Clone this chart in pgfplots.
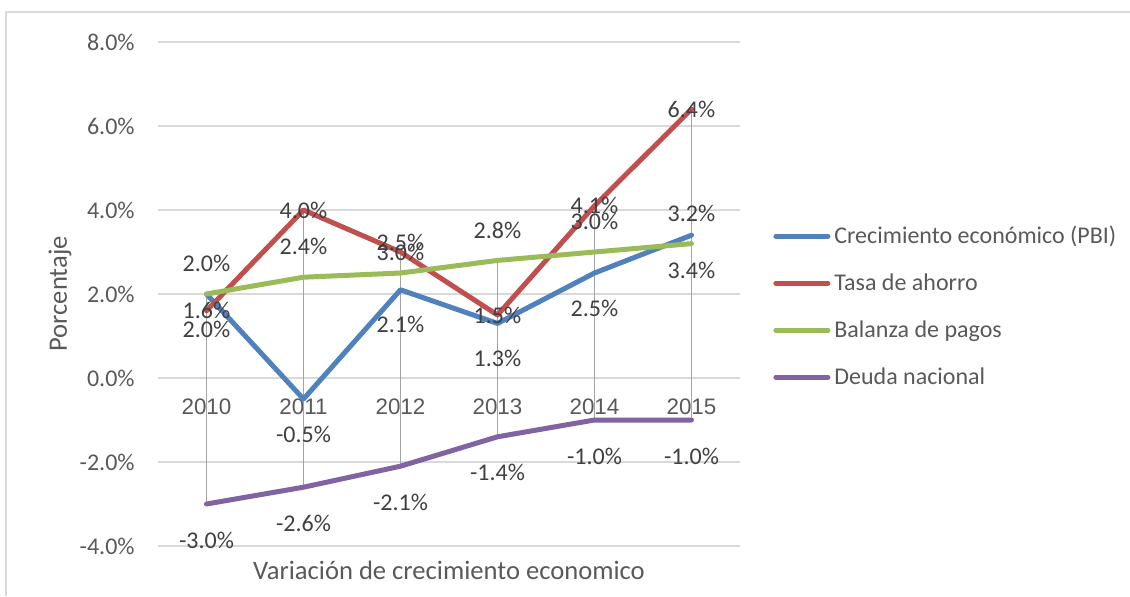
\documentclass[border=0pt]{standalone}
\usepackage{fontspec}
\setmainfont{Carlito}
\newfontfamily\arialf{Liberation Sans}
\usepackage{pgfplots}
\usepackage{pgfplotstable}
\pgfplotsset{compat=1.18}

\definecolor{cPBI}{HTML}{4F81BD}
\definecolor{cAhorro}{HTML}{C0504D}
\definecolor{cBalanza}{HTML}{9BBB59}
\definecolor{cDeuda}{HTML}{8064A2}
\definecolor{gridc}{HTML}{D9D9D9}
\definecolor{hilo}{HTML}{A5A5A5}
\definecolor{txt}{HTML}{595959}
\definecolor{lbl}{HTML}{404040}

% values in percent, years 2010-2015 at x = 0..5
\pgfplotstableread{
x pbi ahorro balanza deuda
0  2.0  1.6 2.0 -3.0
1 -0.5  4.0 2.4 -2.6
2  2.1  3.0 2.5 -2.1
3  1.3  1.5 2.8 -1.4
4  2.5  4.1 3.0 -1.0
5  3.4  6.4 3.2 -1.0
}\datos

\pgfplotsset{
  etiq/.style={draw=none, forget plot, point meta=y,
    nodes near coords={\pgfmathprintnumber[fixed,fixed zerofill,precision=1,assume math mode=true]{\pgfplotspointmeta}\%},
    every node near coord/.append style={anchor=center, inner sep=0pt,
      font=\fontsize{12}{14}\selectfont, text=lbl, yshift=#1}},
  serie/.style={#1, line width=2.5pt, line join=round, line cap=round},
}

\begin{document}
\begin{tikzpicture}
\useasboundingbox (0,0) rectangle (565pt,298pt);
\draw[gridc, line width=0.75pt] (3pt,0) -- (3pt,292pt) -- (565pt,292pt);
\begin{axis}[
    at={(79pt,25pt)}, anchor=south west,
    scale only axis, width=291pt, height=252pt,
    xmin=-0.5, xmax=5.5, ymin=-4, ymax=8,
    xtick={0,...,5}, xticklabels={2010,2011,2012,2013,2014,2015},
    ytick={-4,-2,...,8},
    yticklabel={\pgfmathprintnumber[fixed,fixed zerofill,precision=1,assume math mode=true]{\tick}\%},
    major tick length=0pt,
    axis line style={draw=none},
    ymajorgrids, grid style={gridc, line width=0.75pt},
    xticklabel style={anchor=center, yshift=69.5pt, text=txt,
      font=\arialf\fontsize{11.2}{13}\selectfont},
    yticklabel style={anchor=east, inner sep=0pt, xshift=-11.5pt, text=txt,
      font=\fontsize{12}{14}\selectfont},
    unbounded coords=jump,
    clip=false,
    legend cell align=left,
    legend style={at={(1.0567,0.475)}, anchor=west, draw=none, fill=none,
      inner sep=0pt, row sep=13.5pt, text=txt, font=\fontsize{12}{14}\selectfont,
      nodes={inner sep=0pt},
      /tikz/every even column/.append style={text height=8.5pt, text depth=0.5pt},
      /tikz/every odd column/.append style={column sep=2pt}},
    legend image code/.code={\draw[#1, line cap=round] (0pt,0pt) -- (26pt,0pt);},
]
% high-low lines
\addplot[hilo, line width=0.85pt, forget plot] coordinates {
  (0,-3.0)(0,2.0) (0,nan)
  (1,-2.6)(1,4.0) (1,nan)
  (2,-2.1)(2,3.0) (2,nan)
  (3,-1.4)(3,2.8) (3,nan)
  (4,-1.0)(4,4.1) (4,nan)
  (5,-1.0)(5,6.4)
};
\addplot[serie=cPBI] table[x=x, y=pbi] {\datos};
\addplot[serie=cAhorro] table[x=x, y=ahorro] {\datos};
\addplot[serie=cBalanza] table[x=x, y=balanza] {\datos};
\addplot[serie=cDeuda] table[x=x, y=deuda] {\datos};
\legend{Crecimiento económico (PBI), Tasa de ahorro, Balanza de pagos, Deuda nacional}

% data labels on top
\addplot[etiq=-17.5pt] table[x=x, y=pbi] {\datos};
\addplot[etiq=0pt] table[x=x, y=ahorro] {\datos};
\addplot[etiq=15.25pt] table[x=x, y=balanza] {\datos};
\addplot[etiq=-18pt] table[x=x, y=deuda] {\datos};

\node[rotate=90, font=\fontsize{13.3}{16}\selectfont, text=txt]
  at ([xshift=-49pt]rel axis cs:0,0.5) {Porcentaje};
\node[font=\fontsize{13.3}{16}\selectfont, text=txt]
  at ([yshift=-12pt]rel axis cs:0.5,0) {Variación de crecimiento economico};
\end{axis}
\end{tikzpicture}
\end{document}
